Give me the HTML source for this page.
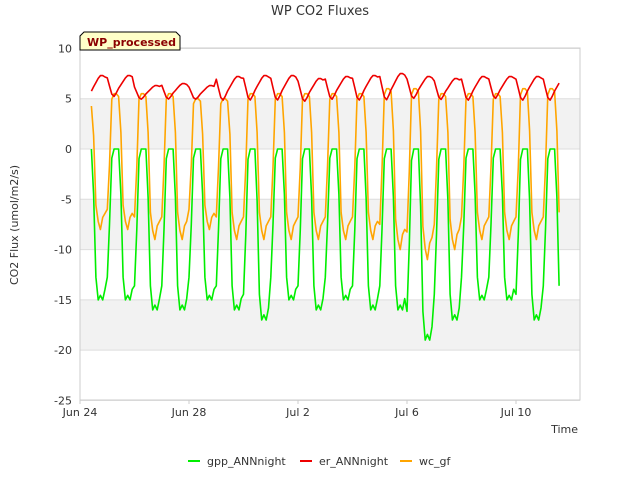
<!DOCTYPE html>
<html><head><meta charset="utf-8"><style>
body{margin:0;background:#fff;font-family:"Liberation Sans","DejaVu Sans",sans-serif}
svg text{font-family:"DejaVu Sans","Liberation Sans",sans-serif}
</style></head><body>
<svg id="c" width="640" height="480" viewBox="0 0 640 480">
<rect x="0" y="0" width="640" height="480" fill="#fff"/>
<g id="bands"></g>
<g id="grid"></g>
<rect x="80" y="48" width="500" height="352" fill="none" stroke="#ccc"/>
<g id="series"></g>
<g id="axes"></g>
<text x="320" y="15" text-anchor="middle" font-size="13" fill="#333">WP CO2 Fluxes</text>
<text transform="translate(18,225) rotate(-90)" text-anchor="middle" font-size="11" fill="#333">CO2 Flux (umol/m2/s)</text>
<text x="578" y="433" text-anchor="end" font-size="11" fill="#333">Time</text>
<g>
<path d="M80,50 L80,36 L84,32 L176,32 L180,36 L180,50 Z" fill="#ffffc8" stroke="#000"/>
<text x="87" y="46" font-size="11" font-weight="bold" fill="#8b0000">WP_processed</text>
</g>
<g id="legend"></g>
</svg>
<script>
const yTicks=[10,5,0,-5,-10,-15,-20,-25];
const xTickLabels=["Jun 24","Jun 28","Jul 2","Jul 6","Jul 10"];
const xTickDays=[0,4,8,12,16];
const seriesNames=["gpp_ANNnight","er_ANNnight","wc_gf"];
const seriesColors=["#00ee00","#ee0000","#ffa500"];
// diurnal shape templates (2-hourly, relative)
const gppShape=[0.85,0.5,0.06,0,0,0,0.3,0.85,1,0.97,1,0.93];
const erShape=[0.9,0.55,0.2,0.1,0.25,0.45,0.6,0.75,0.9,1,1,0.95];
const wcShape=[-0.75,-0.2,0.9,1,1,0.95,0.3,-0.7,-0.9,-1,-0.85,-0.8];
// per-day magnitudes
const gppMin=[-15,-15,-16,-16,-15,-16,-17,-15,-16,-15,-16,-16,-19,-17,-15,-15,-17,-16];
const erMax=[7.3,7.3,6.3,6.5,6.3,7.2,7.3,7.3,7.0,7.2,7.3,7.5,7.2,7.0,7.2,7.2,7.2,7.2];
const erMin=[4.5,5.0,4.8,4.8,4.8,4.6,4.6,4.6,4.5,4.7,4.6,4.6,4.8,4.7,4.6,4.8,4.6,4.6];
const wcNight=[4.5,5.5,5.5,5.5,5.0,5.0,5.5,5.5,5.5,5.5,5.5,6.0,6.0,5.5,5.5,5.5,6.0,6.0];
const wcDay=[-8,-8,-9,-9,-8,-9,-9,-9,-9,-9,-9,-10,-11,-10,-9,-9,-9,-9];
const startDay=0.35,endDay=17.65;
const X=d=>80+d*27.25, Y=v=>149-v*10.057;
const NS="http://www.w3.org/2000/svg";
function mk(t,a,p){const e=document.createElementNS(NS,t);for(const k in a)e.setAttribute(k,a[k]);p.appendChild(e);return e;}
const bands=document.getElementById('bands'),grid=document.getElementById('grid'),axes=document.getElementById('axes');
for(let i=0;i+1<yTicks.length;i++){if(i%2===1){const r=mk('rect',{x:80,y:Y(yTicks[i]),width:500,height:Y(yTicks[i+1])-Y(yTicks[i]),fill:'#f2f2f2'},bands);

}}
yTicks.forEach(v=>{const l=mk('line',{x1:80,x2:580,y1:Y(v),y2:Y(v),stroke:'#ddd'},grid);


const t=mk('text',{x:72,y:Y(v)+4,'text-anchor':'end','font-size':11,fill:'#333'},axes);t.textContent=v;

});
xTickDays.forEach((d,i)=>{const t=mk('text',{x:X(d),y:416,'text-anchor':'middle','font-size':11,fill:'#333'},axes);t.textContent=xTickLabels[i];


const l=mk('line',{x1:X(d),x2:X(d),y1:400,y2:404,stroke:'#ccc'},axes);

});
function build(f){const pts=[];for(let day=0;day<gppMin.length;day++){for(let k=0;k<12;k++){const d=day+k/12;if(d<startDay||d>endDay)continue;pts.push([X(d),Y(f(day,k))]);}}return pts.map((p,i)=>(i?'L':'M')+p[0].toFixed(1)+','+p[1].toFixed(1)).join('');}
const ser=document.getElementById('series');
const paths=[
 build((d,k)=>gppMin[d]*gppShape[k]),
 build((d,k)=>erMin[d]+(erMax[d]-erMin[d])*erShape[k]),
 build((d,k)=>wcShape[k]>=0?wcNight[d]*wcShape[k]:-wcDay[d]*wcShape[k])
];
[0,2,1].forEach(i=>{const p=mk('path',{d:paths[i],fill:'none',stroke:seriesColors[i],'stroke-width':1.6,'stroke-linejoin':'round'},ser);

});
const lg=document.getElementById('legend');const lx=[188,300,400];
seriesNames.forEach((n,i)=>{const g=mk('g',{},lg);


mk('line',{x1:lx[i],x2:lx[i]+12,y1:461,y2:461,stroke:seriesColors[i],'stroke-width':2},g);
const t=mk('text',{x:lx[i]+19,y:465,'font-size':11,fill:'#333'},g);t.textContent=n;});
</script>
</body></html>
